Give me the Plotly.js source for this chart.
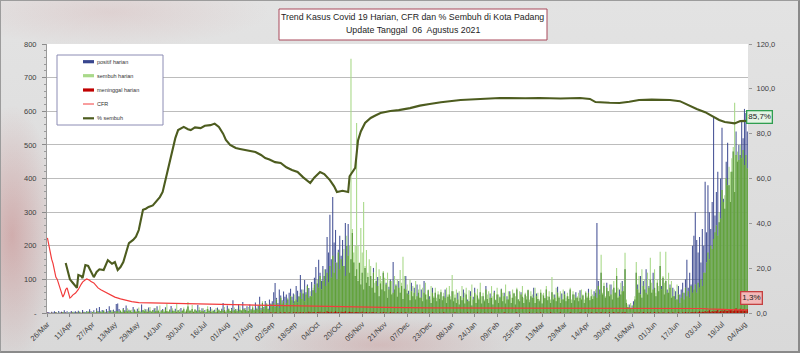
<!DOCTYPE html>
<html>
<head>
<meta charset="utf-8">
<script src="https://cdn.plot.ly/plotly-3.0.1.min.js"></script>
<style>
  html, body { margin: 0; padding: 0; }
  #wrap {
    position: relative; width: 800px; height: 353px; overflow: hidden;
    background:
      radial-gradient(ellipse 45px 130px at 12px 235px, rgba(185,85,85,0.35), rgba(185,85,85,0) 100%),
      radial-gradient(ellipse 130px 28px at 380px 345px, rgba(190,110,110,0.28), rgba(190,110,110,0) 100%),
      radial-gradient(ellipse 160px 35px at 110px 12px, rgba(200,130,130,0.18), rgba(200,130,130,0) 100%),
      linear-gradient(#e3e3e3, #d9d9d9);
  }
  #chart { position: absolute; left: 0; top: 0; width: 800px; height: 353px; }
  #frame { position: absolute; left: 0; top: 0; width: 800px; height: 353px; box-sizing: border-box; border: 1px solid #9c9c9c; border-right: 2px solid #8a8a8a; border-bottom: 2px solid #8a8a8a; pointer-events: none; }
</style>
</head>
<body>
<div id="wrap"><div id="chart"></div><div id="frame"></div></div>
<script>
// ---------- DATA ----------
const startDate = [2020, 2, 26]; // 26 Mar 2020 = day 0
const titleLines = ['Trend Kasus Covid 19 Harian, CFR dan % Sembuh di Kota Padang', 'Update Tanggal  06  Agustus 2021'];
const legendLabels = ['positif harian', 'sembuh harian', 'meninggal harian', 'CFR', '% sembuh'];
const lastSembuhLabel = '85,7%';
const lastCfrLabel = '1,3%';

const positif = [
  2,3,1,4,2,5,3,1,6,2, 4,3,8,2,5,1,3,6,2,4,
  5,2,7,3,1,9,4,2,6,3, 11,5,3,8,2,14,6,18,4,9,
  7,3,12,5,20,8,4,10,6,27,
  28,12,6,3,15,8,22,5,10,7, 3,18,9,4,13,6,2,25,8,5,
  11,4,16,7,3,9,14,5,20,6, 2,8,12,4,17,6,3,10,21,7,
  5,13,4,9,3,15,6,11,2,8, 19,5,7,12,3,10,6,24,8,4,
  14,5,9,3,12,7,18,4,6,10, 3,16,8,5,13,30,9,4,22,11,
  6,15,38,8,12,5,27,10,7,33, 14,9,20,6,25,11,16,8,31,13,
  22,48,15,30,18,36,25,12,40,28, 35,62,89,45,30,70,52,38,64,48,
  55,40,60,72,48,58,35,80,66,50, 113,70,58,98,62,85,74,50,92,68,
  105,137,88,158,120,96,140,110,130,226, 180,292,160,345,210,247,150,188,230,170,
  217,140,268,200,265,120,160,238,150,110, 130,95,149,85,120,70,134,90,107,80,
  110,75,134,60,95,107,50,88,70,120, 65,90,45,78,100,55,152,70,85,48,
  95,60,80,42,72,110,58,66,38,90, 50,75,40,85,60,45,70,35,95,55,
  40,68,50,30,75,45,60,35,55,42, 62,38,50,70,30,48,55,40,65,35,
  45,30,60,25,50,38,70,28,55,40, 35,65,22,48,75,30,52,40,62,28,
  50,35,80,42,30,58,45,25,66,38, 55,30,48,72,35,60,28,50,40,65,
  30,45,58,25,70,40,35,62,48,30, 55,40,68,32,50,45,75,30,58,42,
  35,60,28,52,44,70,38,48,30,62, 40,55,35,78,45,30,58,40,65,35,
  50,42,70,30,55,38,62,45,35,68, 40,52,30,60,45,72,38,50,42,65,
  60,268,95,70,120,55,80,45,90,65, 50,85,40,75,60,110,45,70,55,95,
  65,130,30,18,25,14,22,35,40,120, 85,60,110,45,95,70,130,55,80,100,
  60,120,75,50,90,65,140,80,105,55, 95,70,60,85,45,75,50,65,40,80,
  55,70,90,60,100,158,75,120,85,200, 230,300,217,180,226,150,250,200,
  390,240,380,300,250,330,583,290,360,420, 270,400,551,340,310,450,506,380,330,420,
  480,360,540,450,500,470,574,520,607,595, 540
];

const sembuh = [
  0,0,0,1,0,0,2,0,1,0, 0,3,0,1,0,2,0,0,4,1,
  0,2,0,5,1,0,3,0,2,6, 1,0,4,2,0,7,3,1,5,2,
  8,1,3,0,6,2,9,4,1,5,
  6,2,9,4,11,3,7,14,5,8, 10,3,12,6,4,16,7,2,9,13,
  5,11,4,18,6,8,3,15,7,10, 22,5,9,4,12,28,6,10,3,14,
  8,5,30,7,11,4,9,16,6,13, 33,10,7,24,5,12,8,4,17,9,
  6,14,3,11,20,7,5,13,9,4, 15,8,12,5,10,6,18,4,9,14,
  7,11,5,16,8,13,6,20,9,12, 10,15,7,18,11,8,22,13,9,16,
  10,25,8,35,12,20,30,15,9,26, 20,30,18,40,25,15,45,28,35,22,
  30,45,25,50,38,28,55,40,32,48, 60,42,70,35,55,80,45,65,50,75,
  85,60,100,75,110,70,95,130,80,120, 90,140,105,170,120,150,100,180,130,160,
  140,190,110,230,170,200,756,250,180,200, 565,200,150,253,180,330,140,187,120,160,
  140,100,120,90,150,80,130,110,95,125, 105,85,120,70,95,95,60,110,80,100,
  75,128,90,167,110,70,85,55,100,65, 80,60,95,50,70,85,45,75,60,90,
  55,70,40,80,60,50,75,45,65,55, 70,50,60,45,75,55,80,50,113,65,
  55,70,40,65,50,80,45,60,75,35, 68,50,85,40,60,55,72,45,90,50,
  60,40,70,55,65,45,80,50,60,40, 75,55,45,70,60,50,85,40,65,55,
  45,70,60,50,75,40,65,55,80,45, 60,50,70,40,65,55,45,75,50,60,
  40,70,55,60,45,80,50,65,40,107, 55,45,75,60,50,65,40,70,55,45,
  60,50,75,40,65,55,45,50,60,45, 70,55,40,65,50,60,45,70,55,50,
  70,45,80,55,173,60,90,50,75,65, 85,55,70,95,60,134,75,50,90,65,
  80,179,40,25,18,30,15,24,50,152, 70,110,55,130,80,100,60,120,75,164,
  90,70,130,60,100,80,182,70,110,90, 182,60,120,75,95,50,70,40,85,55,
  30,45,60,40,75,50,65,45,80,60, 70,85,60,90,75,100,80,120,
  120,150,180,160,200,190,220,240,260,230, 300,280,366,330,350,400,380,435,420,460,
  494,625,470,480,455,500,460,485,440,470, 430
];

const meninggal = [
  1,0,0,1,0,0,1,0,0,0,1,0,0,1,0,0,0,1,0,0,
  0,1,0,0,0,1,0,0,0,0,1,0,0,0,0,1,0,0,0,0,
  0,0,1,0,0,0,0,0,1,0,0,0,0,0,0,1,0,0,0,0,
  0,0,0,1,0,0,0,0,0,0,0,1,0,0,0,0,0,0,1,0,
  0,0,0,0,0,1,0,0,0,0,0,0,1,0,0,0,0,0,0,1,
  0,0,0,0,1,0,0,0,0,0,1,0,0,0,0,0,1,0,0,0,
  0,1,0,0,0,0,1,0,0,0,0,1,0,0,1,0,0,0,0,1,
  0,0,1,0,0,1,0,0,1,0,0,1,0,2,0,1,0,1,0,2,
  1,0,2,1,0,1,2,0,1,3,0,1,2,1,0,2,1,3,0,2,
  2,1,3,0,2,1,4,2,1,3,2,0,3,2,4,1,2,3,1,5,
  3,2,4,1,3,5,2,3,1,4,2,3,5,1,2,4,3,2,1,3,
  2,3,1,2,4,1,2,3,1,2,1,3,2,1,2,0,1,2,1,3,
  1,2,0,1,3,1,2,1,0,2,1,1,2,0,1,2,1,0,1,2,
  0,1,2,1,0,1,1,2,0,1,0,1,1,0,2,1,0,1,0,1,
  1,0,2,1,0,1,0,1,1,0,2,0,1,0,1,1,0,1,0,2,
  0,1,0,1,1,0,2,0,1,0,0,1,1,0,1,0,2,0,1,0,
  1,0,1,0,0,2,1,0,1,0,1,0,0,1,2,0,1,0,0,1,
  0,1,0,2,0,1,0,0,1,1,0,2,0,1,0,0,1,0,2,1,
  0,1,0,0,1,2,0,1,0,1,0,0,2,1,0,1,0,1,0,2,
  1,0,1,2,0,1,0,2,1,0,1,2,0,1,3,0,1,2,0,1,
  2,0,1,3,1,0,2,1,0,2,1,3,0,1,0,0,1,0,2,1,
  1,2,0,1,3,1,0,2,1,2,0,1,3,1,0,2,1,0,2,1,
  0,1,2,1,0,2,1,0,1,2,1,0,2,1,3,1,2,0,3,2,
  2,4,1,3,5,2,4,3,6,2,5,8,3,6,4,7,5,9,4,6,
  8,5,10,7,6,12,8,9,6,11,14,8,10,13,9,12,7,10,11
];

// CFR (%) — day offset from 26 Mar 2020, value
const cfrDay   = [0,1,2,3,4,5,6,7,8,9,10,11,12,13,14,15,16,17,18,20,22,24,25,27,28,30,31,33,35,36,38,41,44,48,52,55,60,65,75,93,110,125,141,160,180,200,215,240,270,300,350,400,420,440,465,470,480,490,498];
const cfrValue = [33.5,30,27,24,22,18,16,15,13,11.6,9,7.1,8.5,10.5,11.2,9,6.7,7.2,8,8.9,10.5,12.8,13.8,14.8,15.2,14.6,14.0,13.4,11.8,11.2,10.4,9.4,8.3,7.1,6.3,5.8,5.1,4.6,4.5,4.4,4.2,4.0,3.6,3.4,3.1,2.9,2.7,2.5,2.3,2.3,2.3,2.3,2.2,2.1,2.0,1.8,1.5,1.4,1.3];

// % sembuh — day offset, value
const pctDay   = [13,14,16,18,21,22,24,25,27,29,31,33,35,37,40,43,46,48,50,52,54,56,58,61,63,65,68,70,72,75,77,80,82,84,87,89,91,93,95,97,100,102,105,109,112,116,119,122,125,127,130,134,137,141,145,148,152,155,158,162,166,170,174,178,182,187,190,194,197,201,204,206,210,214,215,217,219,221,223,226,230,233,237,244,250,258,265,272,280,294,310,322,340,350,365,379,386,390,400,407,414,421,430,443,450,457,462,468,473,478,482,485,489,493,496,498];
const pctValue = [22.3,20,15,13.5,11.2,17,16.5,15.6,21.4,21,18.5,16,18.3,19.5,19.2,23.6,22,22.7,19.2,20.5,22.7,27,31.2,32.6,34,37,46,46.5,47.3,48,49.5,51.7,54,59.3,66,72.7,78,81.6,82.5,83,82,81.6,82.8,82.5,83.5,83.8,84.5,83,80,77.2,75,73.6,73.2,72.7,72,71.8,70.5,69.1,68.5,67.3,66.9,65,63.8,62.9,60.5,58,60.5,62.9,62,59.3,56.5,54,54.5,54,61,63,64.7,77,81,84.8,87,88,89.2,90.1,90.5,91.4,92.5,93.2,94,95,95.5,95.9,95.8,95.9,95.7,95.9,95.5,94.1,93.8,93.7,94.2,95,95.2,95,94.5,92.3,91,89.6,87.8,86.1,85.2,84.8,84.6,85.6,85.6,85.7];

const leftTickVals  = [0,100,200,300,400,500,600,700,800];
const leftTickText  = ['-','100','200','300','400','500','600','700','800'];
const rightTickVals = [0,20,40,60,80,100,120];
const rightTickText = ['0,0','20,0','40,0','60,0','80,0','100,0','120,0'];

// ---------- BUILD ----------
const DAY = 86400000;
const t0 = Date.UTC(startDate[0], startDate[1], startDate[2]);
const toDate = d => new Date(t0 + d * DAY).toISOString().slice(0, 10);
const toDateTime = d => new Date(t0 + d * DAY).toISOString().slice(0, 19).replace('T', ' ');
const datesFor = arr => arr.map((_, i) => toDate(i));
const overlap = positif.map((v, i) => Math.min(v, sembuh[i] !== undefined ? sembuh[i] : 0));

const C = { blue: '#38468e', lightGreen: '#a9d98a', darkGreen: '#60a03a', red: '#c00000', cfr: '#f23c3c', pct: '#4d5c1f' };

const traces = [
  { type: 'bar', x: datesFor(positif), y: positif, marker: { color: C.blue, opacity: 0.9, line: { width: 0 } }, yaxis: 'y', hoverinfo: 'skip' },
  { type: 'bar', x: datesFor(sembuh), y: sembuh, marker: { color: C.lightGreen, line: { width: 0 } }, yaxis: 'y', hoverinfo: 'skip' },
  { type: 'bar', x: datesFor(overlap), y: overlap, marker: { color: C.darkGreen, line: { width: 0 } }, yaxis: 'y', hoverinfo: 'skip' },
  { type: 'bar', x: datesFor(meninggal), y: meninggal, marker: { color: C.red, line: { width: 0 } }, yaxis: 'y', hoverinfo: 'skip' },
  { type: 'scatter', mode: 'lines', x: cfrDay.map(toDate), y: cfrValue, yaxis: 'y2', line: { color: C.cfr, width: 1.2 }, hoverinfo: 'skip' },
  { type: 'scatter', mode: 'lines', x: pctDay.map(toDate), y: pctValue, yaxis: 'y2', line: { color: C.pct, width: 2.1 }, hoverinfo: 'skip' }
];

// pixel helpers for decorations (plot area 47..748 x 44..313)
const PL = 47, PR = 748, PT = 44, PB = 313;
const px = x => (x - PL) / (PR - PL);
const py = y => (PB - y) / (PB - PT);

const shapes = [
  { type: 'rect', xref: 'paper', yref: 'paper', x0: px(279), x1: px(547), y0: py(40), y1: py(9), fillcolor: '#ffffff', line: { color: '#a8485a', width: 1 } },
  { type: 'rect', xref: 'paper', yref: 'paper', x0: px(57), x1: px(163), y0: py(125), y1: py(55), fillcolor: '#ffffff', line: { color: '#8c8cb4', width: 1 } }
];
const legendY = [61.7, 75.7, 90, 104, 118.3];
const legendStyle = [
  { kind: 'rect', color: C.blue }, { kind: 'rect', color: C.lightGreen }, { kind: 'rect', color: C.red },
  { kind: 'line', color: C.cfr, w: 1 }, { kind: 'line', color: C.pct, w: 2.2 }
];
const annotations = [];
legendLabels.forEach((lab, i) => {
  const yc = legendY[i], s = legendStyle[i];
  if (s.kind === 'rect') {
    shapes.push({ type: 'rect', xref: 'paper', yref: 'paper', x0: px(83), x1: px(94), y0: py(yc + 1.6), y1: py(yc - 1.6), fillcolor: s.color, line: { width: 0 } });
  } else {
    shapes.push({ type: 'line', xref: 'paper', yref: 'paper', x0: px(83), x1: px(94), y0: py(yc), y1: py(yc), line: { color: s.color, width: s.w } });
  }
  annotations.push({ xref: 'paper', yref: 'paper', x: px(94.5), y: py(yc), xanchor: 'left', yanchor: 'middle', showarrow: false, text: lab, font: { family: 'Liberation Sans, Arial, sans-serif', size: 5.5, color: '#333' } });
});
annotations.push(
  { xref: 'paper', yref: 'paper', x: px(413), y: py(16.8), xanchor: 'center', yanchor: 'middle', showarrow: false, text: titleLines[0], font: { family: 'Liberation Sans, Arial, sans-serif', size: 8.8, color: '#1e1e1e' } },
  { xref: 'paper', yref: 'paper', x: px(413), y: py(29.5), xanchor: 'center', yanchor: 'middle', showarrow: false, text: titleLines[1], font: { family: 'Liberation Sans, Arial, sans-serif', size: 8.8, color: '#1e1e1e' } },
  { xref: 'paper', yref: 'y2', x: px(759), y: 87.4, xanchor: 'center', yanchor: 'middle', showarrow: false, text: lastSembuhLabel, bgcolor: '#e4f4e4', bordercolor: '#2f9e50', borderwidth: 1.3, borderpad: 1, font: { family: 'Liberation Sans, Arial, sans-serif', size: 8, color: '#222' } },
  { xref: 'paper', yref: 'y2', x: px(752), y: 6.6, xanchor: 'center', yanchor: 'middle', showarrow: false, text: lastCfrLabel, bgcolor: '#f3b9b9', bordercolor: '#c44040', borderwidth: 1.3, borderpad: 1, font: { family: 'Liberation Sans, Arial, sans-serif', size: 8, color: '#222' } }
);

const tickFont = { family: 'Liberation Sans, Arial, sans-serif', size: 7.5, color: '#404040' };
const layout = {
  width: 800, height: 353,
  margin: { l: PL, r: 800 - PR, t: PT, b: 353 - PB, pad: 0 },
  paper_bgcolor: 'rgba(0,0,0,0)', plot_bgcolor: '#ffffff',
  showlegend: false, barmode: 'overlay', bargap: 0.22,
  xaxis: {
    type: 'date', range: [toDateTime(-0.3), toDateTime(498.5)],
    tick0: toDate(0), dtick: 16 * DAY, tickformat: '%d/%b', tickangle: -45,
    ticks: 'outside', ticklen: 3, tickcolor: '#8a8a8a', showline: true, linecolor: '#9a9a9a', linewidth: 1,
    showgrid: false, zeroline: false, tickfont: tickFont, fixedrange: true
  },
  yaxis: {
    range: [0, 800], tickvals: leftTickVals, ticktext: leftTickText, tickfont: tickFont,
    ticks: 'outside', ticklen: 4, tickcolor: '#8a8a8a', ticklabelstandoff: 4,
    minor: { dtick: 20, ticks: 'outside', ticklen: 2, tickcolor: '#9a9a9a', showgrid: false },
    showline: true, linecolor: '#9a9a9a', gridcolor: '#bcbcbc', gridwidth: 1, zeroline: false, fixedrange: true
  },
  yaxis2: {
    overlaying: 'y', side: 'right', range: [0, 120], tickvals: rightTickVals, ticktext: rightTickText, tickfont: tickFont,
    ticks: 'outside', ticklen: 3, tickcolor: '#9a9a9a', ticklabelstandoff: 3,
    showline: false, showgrid: false, zeroline: false, fixedrange: true
  },
  shapes: shapes, annotations: annotations
};

Plotly.newPlot('chart', traces, layout, { staticPlot: true, displayModeBar: false });
</script>
</body>
</html>
